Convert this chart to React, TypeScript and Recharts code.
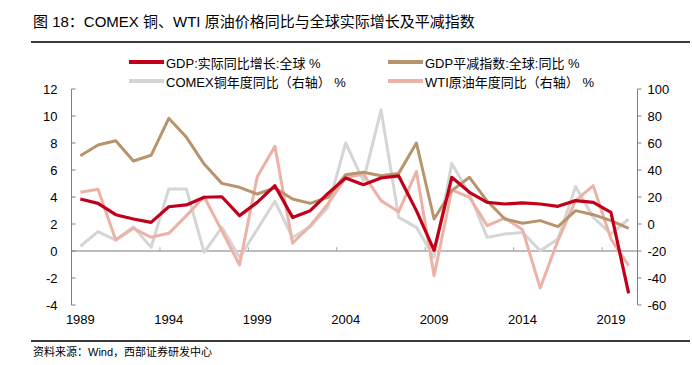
import { LineChart, Line, XAxis, YAxis, ReferenceLine } from "recharts";

const FONT = '"Liberation Sans", Arial, "Noto Sans CJK SC", sans-serif';

const COLOR_GDP = "#C0001A";
const COLOR_DEFLATOR = "#B8946C";
const COLOR_COPPER = "#D5D5D5";
const COLOR_WTI = "#EDB2A6";

const years = [
  1989, 1990, 1991, 1992, 1993, 1994, 1995, 1996, 1997, 1998, 1999, 2000, 2001, 2002, 2003, 2004,
  2005, 2006, 2007, 2008, 2009, 2010, 2011, 2012, 2013, 2014, 2015, 2016, 2017, 2018, 2019, 2020,
];

// left axis (%)
const gdpReal = [
  3.85, 3.53, 2.69, 2.37, 2.12, 3.28, 3.41, 3.98, 4.02, 2.62, 3.6, 4.84, 2.49, 2.99, 4.27, 5.41,
  4.91, 5.41, 5.56, 2.99, 0.05, 5.46, 4.35, 3.6, 3.48, 3.56, 3.48, 3.31, 3.73, 3.6, 2.86, -3.14,
];
const gdpDeflator = [
  7.06, 7.85, 8.17, 6.67, 7.09, 9.83, 8.42, 6.44, 5.01, 4.72, 4.22, 4.67, 3.85, 3.53, 3.98, 5.65,
  5.83, 5.58, 5.75, 8.0, 2.37, 4.47, 5.46, 3.7, 2.37, 2.05, 2.25, 1.8, 2.99, 2.69, 2.25, 1.68,
];

// right axis (%)
const copperYoy = [
  -16.5, -5.7, -11.9, -2.0, -17.3, 25.9, 25.9, -21, -2.5, -24.7, -4, 16.8, -10, -2, 12.5, 60,
  32, 84.4, 4.9, -2.5, -24.7, 44.9, 22.2, -9.9, -7.4, -6.2, -19.8, -11.1, 27.7, 4.9, -7.4, 3.7,
];
const wtiYoy = [
  23.5, 25.7, -11.9, -3.2, -9.8, -6.9, 6.2, 20.2, -5, -30.4, 35, 57.5, -14.3, -1.2, 14.8, 34.2,
  37, 17.3, 9.1, 38.8, -38.3, 25.2, 19.8, -1.2, 4.4, -4.2, -47.4, -12.3, 17.3, 28.4, -11.1, -30.9,
];

const xTicks = [1989, 1994, 1999, 2004, 2009, 2014, 2019];
const xMarks = [1993.5, 1998.5, 2003.5, 2008.5, 2013.5, 2018.5];
const leftTicks = [-4, -2, 0, 2, 4, 6, 8, 10, 12];
const rightTicks = [-60, -40, -20, 0, 20, 40, 60, 80, 100];

const legendItems = [
  { label: "GDP:实际同比增长:全球 %", color: COLOR_GDP },
  { label: "GDP平减指数:全球:同比 %", color: COLOR_DEFLATOR },
  { label: "COMEX铜年度同比（右轴） %", color: COLOR_COPPER },
  { label: "WTI原油年度同比（右轴） %", color: COLOR_WTI },
];

const data = years.map((year, i) => ({
  year,
  gdpReal: gdpReal[i],
  gdpDeflator: gdpDeflator[i],
  copper: copperYoy[i],
  wti: wtiYoy[i],
}));

const tickStyle = { fontSize: 13, fill: "#000", fontFamily: FONT };

export default function App() {
  return (
    <div
      style={{
        position: "absolute",
        left: 0,
        top: 0,
        width: 692,
        height: 365,
        background: "#fff",
        fontFamily: FONT,
        color: "#000",
      }}
    >
      <div style={{ position: "absolute", left: 33, top: 12, fontSize: 15, lineHeight: "20px", whiteSpace: "nowrap" }}>
        图 18：COMEX 铜、WTI 原油价格同比与全球实际增长及平减指数
      </div>
      <div style={{ position: "absolute", left: 31, top: 41, width: 659, height: 1.5, background: "#3a3a3a" }} />

      {/* legend, two rows by two columns */}
      {legendItems.map((item, i) => (
        <div
          key={item.label}
          style={{
            position: "absolute",
            left: i % 2 === 0 ? 129 : 388,
            top: i < 2 ? 53 : 72,
            height: 18,
            display: "flex",
            alignItems: "center",
            fontSize: 13,
            whiteSpace: "nowrap",
          }}
        >
          <span style={{ display: "inline-block", width: 35, height: 4, background: item.color, marginRight: 2 }} />
          {item.label}
        </div>
      ))}

      <LineChart
        width={692}
        height={365}
        data={data}
        margin={{ top: 89, right: 0, bottom: 0, left: 0 }}
        style={{ position: "absolute", left: 0, top: 0 }}
      >
        <XAxis
          dataKey="year"
          type="number"
          domain={[1988.5, 2020.5]}
          ticks={xTicks}
          axisLine={false}
          tickLine={false}
          tickSize={0}
          tickMargin={10}
          height={60}
          tick={tickStyle}
          interval={0}
        />
        <YAxis
          yAxisId="left"
          width={71.5}
          domain={[-4, 12]}
          ticks={leftTicks}
          interval={0}
          allowDataOverflow
          stroke="#808080"
          tickSize={-4}
          tickMargin={18}
          tick={tickStyle}
        />
        <YAxis
          yAxisId="right"
          orientation="right"
          width={54.5}
          domain={[-60, 100]}
          ticks={rightTicks}
          interval={0}
          allowDataOverflow
          stroke="#808080"
          tickSize={4}
          tickMargin={6}
          tick={tickStyle}
        />

        <ReferenceLine yAxisId="left" y={0} stroke="#A6A6A6" strokeWidth={1.5} />
        {xMarks.map((x) => (
          <ReferenceLine
            key={x}
            yAxisId="left"
            segment={[{ x, y: 0 }, { x, y: 0.28 }]}
            stroke="#A6A6A6"
            strokeWidth={1}
          />
        ))}

        <Line yAxisId="right" dataKey="copper" stroke={COLOR_COPPER} strokeWidth={3} strokeLinejoin="round" dot={false} activeDot={false} isAnimationActive={false} />
        <Line yAxisId="right" dataKey="wti" stroke={COLOR_WTI} strokeWidth={3} strokeLinejoin="round" dot={false} activeDot={false} isAnimationActive={false} />
        <Line yAxisId="left" dataKey="gdpDeflator" stroke={COLOR_DEFLATOR} strokeWidth={3} strokeLinejoin="round" dot={false} activeDot={false} isAnimationActive={false} />
        <Line yAxisId="left" dataKey="gdpReal" stroke={COLOR_GDP} strokeWidth={3.2} strokeLinejoin="round" dot={false} activeDot={false} isAnimationActive={false} />
      </LineChart>

      <div style={{ position: "absolute", left: 31, top: 340, width: 659, height: 1.5, background: "#3a3a3a" }} />
      <div style={{ position: "absolute", left: 33, top: 345, fontSize: 11, lineHeight: "14px", whiteSpace: "nowrap" }}>
        资料来源：Wind，西部证券研发中心
      </div>
    </div>
  );
}
